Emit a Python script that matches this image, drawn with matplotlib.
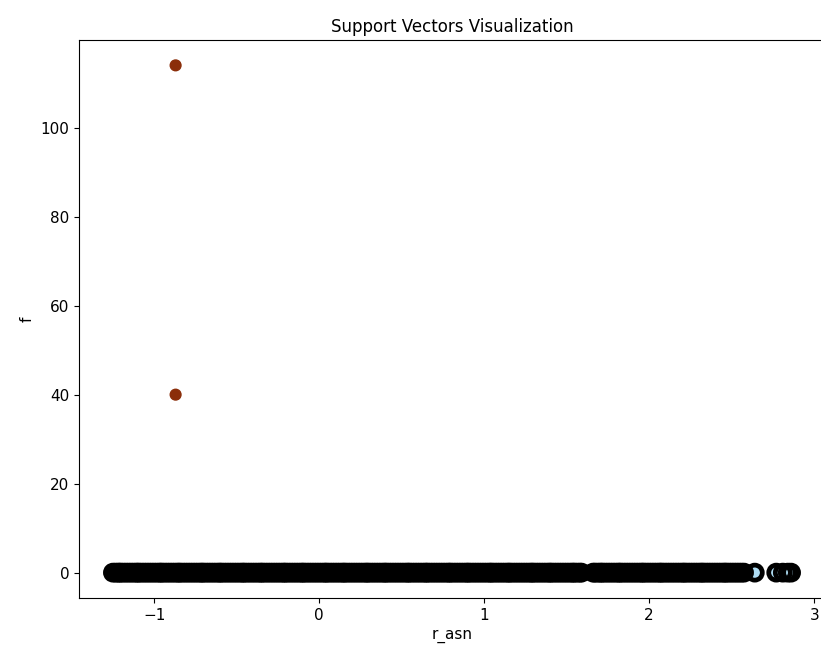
import numpy as np
import matplotlib
matplotlib.use("Agg")
import matplotlib.pyplot as plt
from matplotlib.colors import ListedColormap

# r_asn values of the dense band at f = 0
band_x = [
    -1.25, -1.22, -1.20, -1.17, -1.14, -1.11, -1.09, -1.06, -1.03, -1.00,
    -0.97, -0.95, -0.92, -0.89, -0.86, -0.84, -0.81, -0.78, -0.75, -0.72,
    -0.70, -0.67, -0.64, -0.61, -0.59, -0.56, -0.53, -0.50, -0.47, -0.45,
    -0.42, -0.39, -0.36, -0.34, -0.31, -0.28, -0.25, -0.22, -0.20, -0.17,
    -0.14, -0.11, -0.09, -0.06, -0.03, 0.00, 0.03, 0.05, 0.08, 0.11,
    0.14, 0.16, 0.19, 0.22, 0.25, 0.28, 0.30, 0.33, 0.36, 0.39,
    0.41, 0.44, 0.47, 0.50, 0.53, 0.55, 0.58, 0.61, 0.64, 0.66,
    0.69, 0.72, 0.75, 0.78, 0.80, 0.83, 0.86, 0.89, 0.91, 0.94,
    0.97, 1.00, 1.03, 1.05, 1.08, 1.11, 1.14, 1.16, 1.19, 1.22,
    1.25, 1.28, 1.30, 1.33, 1.36, 1.39, 1.41, 1.44, 1.47, 1.50,
    1.53, 1.55, 1.58,
    1.67, 1.70, 1.72, 1.75, 1.78, 1.81, 1.83, 1.86, 1.89, 1.92,
    1.95, 1.97, 2.00, 2.03, 2.06, 2.08, 2.11, 2.14, 2.17, 2.20,
    2.22, 2.25, 2.28, 2.31, 2.33, 2.36, 2.39, 2.42, 2.45, 2.47,
    2.50, 2.53, 2.56,
    2.64, 2.77, 2.81, 2.84, 2.86,
]
# more band samples lying between the ones above
band_x_more = [
    -1.235, -1.21, -1.185, -1.155, -1.125, -1.10, -1.075, -1.045, -1.015, -0.985,
    -0.96, -0.935, -0.905, -0.875, -0.85, -0.825, -0.795, -0.765, -0.735, -0.71,
    -0.685, -0.655, -0.625, -0.60, -0.575, -0.545, -0.515, -0.485, -0.46, -0.435,
    -0.405, -0.375, -0.35, -0.325, -0.295, -0.265, -0.235, -0.21, -0.185, -0.155,
    -0.125, -0.10, -0.075, -0.045, -0.015, 0.015, 0.04, 0.065, 0.095, 0.125,
    0.15, 0.175, 0.205, 0.235, 0.265, 0.29, 0.315, 0.345, 0.375, 0.40,
    0.425, 0.455, 0.485, 0.515, 0.54, 0.565, 0.595, 0.625, 0.65, 0.675,
    0.705, 0.735, 0.765, 0.79, 0.815, 0.845, 0.875, 0.90, 0.925, 0.955,
    0.985, 1.015, 1.04, 1.065, 1.095, 1.125, 1.15, 1.175, 1.205, 1.235,
    1.265, 1.29, 1.315, 1.345, 1.375, 1.40, 1.425, 1.455, 1.485, 1.515,
    1.54, 1.565, 1.59,
    1.66, 1.685, 1.71, 1.735, 1.765, 1.795, 1.82, 1.845, 1.875, 1.905,
    1.935, 1.96, 1.985, 2.015, 2.045, 2.07, 2.095, 2.125, 2.155, 2.185,
    2.21, 2.235, 2.265, 2.295, 2.32, 2.345, 2.375, 2.405, 2.435, 2.46,
    2.485, 2.515, 2.545, 2.575,
]
band_all = band_x + band_x_more
band_f = [0.0] * len(band_all)
band_cls = [0] * len(band_all)
band_cls[band_all.index(1.55)] = 1
band_cls[band_all.index(1.565)] = 1

# two outliers with large f
out_x = [-0.87, -0.87]
out_f = [114.0, 40.0]
out_cls = [1, 1]

X0 = np.array(band_all + out_x)
X1 = np.array(band_f + out_f)
y = np.array(band_cls + out_cls)

# support vectors: the whole band
sv_x = np.array(band_all)
sv_f = np.array(band_f)

fig = plt.figure(figsize=(8.21, 6.52), dpi=100)
ax = fig.add_axes([79 / 821, 1 - 598 / 652, (825 - 79) / 821, (598 - 40) / 652])

cmap = ListedColormap(['#aedcf2', '#8b2e0a'])
ax.scatter(X0, X1, c=y, cmap=cmap, s=60)
ax.scatter(sv_x, sv_f, s=117, facecolors='none', edgecolors='k', linewidths=3.4)

ax.set_xlabel('r_asn', fontsize=11)
ax.set_ylabel('f', fontsize=11)
ax.set_title('Support Vectors Visualization', fontsize=12)
ax.tick_params(labelsize=11)

fig.savefig('out.png', dpi=100)
